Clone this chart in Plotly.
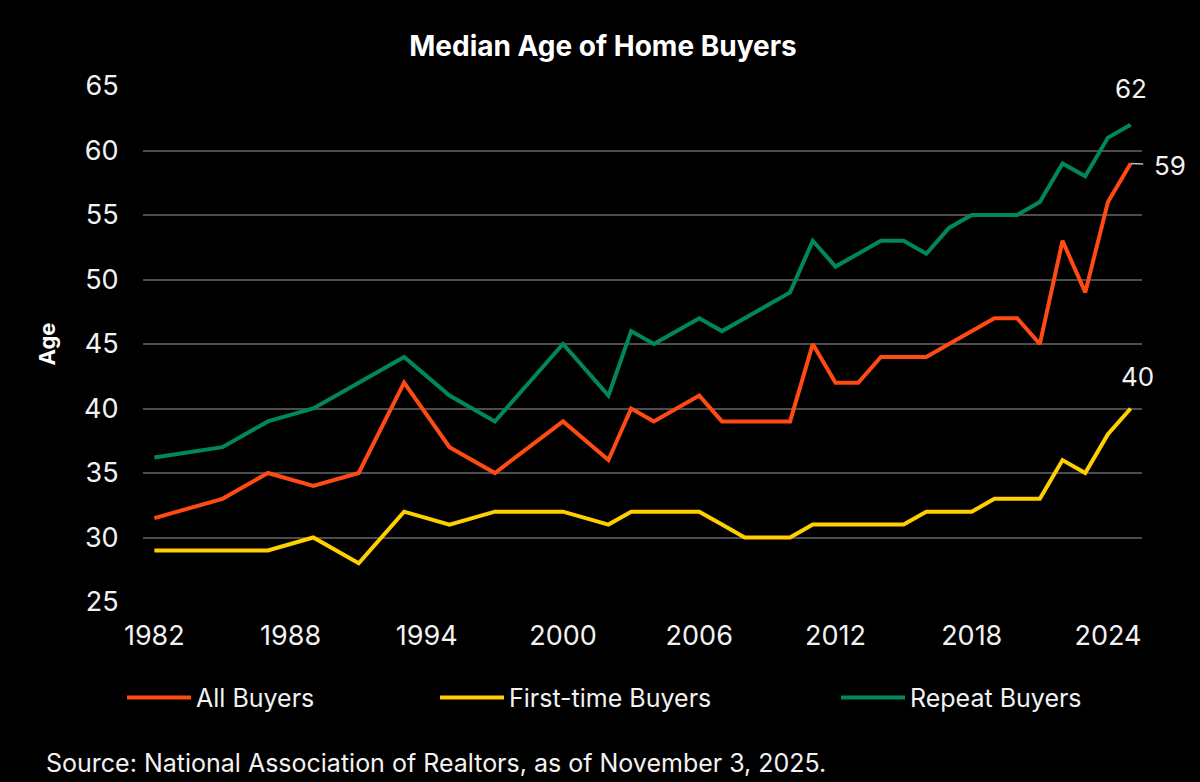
import plotly.graph_objects as go

# ---------------- data ----------------
years = [1982, 1985, 1987, 1989, 1991, 1993, 1995, 1997, 2000, 2002, 2003, 2004,
         2006, 2007, 2008, 2009, 2010, 2011, 2012, 2013, 2014, 2015, 2016, 2017,
         2018, 2019, 2020, 2021, 2022, 2023, 2024, 2025]
all_buyers = [31.5, 33, 35, 34, 35, 42, 37, 35, 39, 36, 40, 39,
              41, 39, 39, 39, 39, 45, 42, 42, 44, 44, 44, 45,
              46, 47, 47, 45, 53, 49, 56, 59]
first_time_buyers = [29, 29, 29, 30, 28, 32, 31, 32, 32, 31, 32, 32,
                     32, 31, 30, 30, 30, 31, 31, 31, 31, 31, 32, 32,
                     32, 33, 33, 33, 36, 35, 38, 40]
repeat_buyers = [36.2, 37, 39, 40, 42, 44, 41, 39, 45, 41, 46, 45,
                 47, 46, 47, 48, 49, 53, 51, 52, 53, 53, 52, 54,
                 55, 55, 55, 56, 59, 58, 61, 62]
series_names = ["All Buyers", "First-time Buyers", "Repeat Buyers"]
x_tick_values = [1982, 1988, 1994, 2000, 2006, 2012, 2018, 2024]
y_tick_values = [25, 30, 35, 40, 45, 50, 55, 60, 65]
title_text = "Median Age of Home Buyers"
y_title_text = "Age"
source_text = "Source: National Association of Realtors, as of November 3, 2025."

# ---------------- styling ----------------
W, H = 1200, 782
L, R, T, B = 143, 58, 86, 180
colors = ["#FF4A14", "#FFCF00", "#00875A"]
FONT = "Inter"
TXT = "#F2F2F2"
GRID = "#4D4D4D"


def paper_x(px):
    return (px - L) / (W - L - R)


def paper_y(py):
    return (H - B - py) / (H - T - B)


series = [all_buyers, first_time_buyers, repeat_buyers]

fig = go.Figure()
for name, vals, col in zip(series_names, series, colors):
    fig.add_trace(go.Scatter(
        x=years, y=vals, mode="lines", name=name,
        line=dict(color=col, width=4), showlegend=False,
        hoverinfo="x+y+name",
    ))

# end-of-line value labels
fig.add_annotation(x=years[-1], y=repeat_buyers[-1], text=str(repeat_buyers[-1]),
                   showarrow=False, yshift=36, xshift=0,
                   font=dict(family=FONT, size=26, color=TXT))
fig.add_annotation(x=years[-1], y=first_time_buyers[-1], text=str(first_time_buyers[-1]),
                   showarrow=False, yshift=32, xshift=7,
                   font=dict(family=FONT, size=26, color=TXT))
fig.add_annotation(x=years[-1], y=all_buyers[-1], text=str(all_buyers[-1]),
                   showarrow=True, arrowhead=0, arrowwidth=1.5, arrowcolor="#BBBBBB",
                   ax=39, ay=2, axref="pixel", ayref="pixel", standoff=0,
                   borderpad=10, font=dict(family=FONT, size=26, color=TXT))

# manual legend (positions match the reference layout)
legend_line_starts = [127, 440, 841]
legend_y = 697.5
for name, col, x0 in zip(series_names, colors, legend_line_starts):
    fig.add_shape(type="line", xref="paper", yref="paper",
                  x0=paper_x(x0), x1=paper_x(x0 + 64),
                  y0=paper_y(legend_y), y1=paper_y(legend_y),
                  line=dict(color=col, width=4))
    fig.add_annotation(xref="paper", yref="paper", x=paper_x(x0 + 67), y=paper_y(legend_y),
                       xanchor="left", yanchor="middle", showarrow=False, text=name,
                       font=dict(family=FONT, size=25, color=TXT))

# source note
fig.add_annotation(xref="paper", yref="paper", x=paper_x(44), y=paper_y(763),
                   xanchor="left", yanchor="middle", showarrow=False, text=source_text,
                   font=dict(family=FONT, size=25, color=TXT))

fig.update_layout(
    width=W, height=H,
    paper_bgcolor="black", plot_bgcolor="black",
    margin=dict(l=L, r=R, t=T, b=B, autoexpand=False),
    title=dict(text=title_text, x=603 / W, xanchor="center", y=1 - 46 / H, yanchor="middle",
               font=dict(family=FONT, size=28, color="white", weight="bold")),
    font=dict(family=FONT, color=TXT),
    xaxis=dict(range=[1981.5, 2025.5], tickvals=x_tick_values, showgrid=False,
               zeroline=False, showline=False, ticks="outside", ticklen=10,
               tickcolor="rgba(0,0,0,0)", tickfont=dict(family=FONT, size=27, color=TXT),
               automargin=False),
    yaxis=dict(range=[25, 65], tickvals=y_tick_values, showgrid=True, gridcolor=GRID,
               gridwidth=1.5, zeroline=False, showline=False, ticks="outside", ticklen=18,
               tickcolor="rgba(0,0,0,0)", tickfont=dict(family=FONT, size=27, color=TXT),
               title=dict(text=y_title_text, standoff=22,
                          font=dict(family=FONT, size=22, color="white", weight="bold")),
               automargin=False),
    hovermode="closest",
)

fig.write_html(
    "out.html",
    config={"displayModeBar": False},
    post_script="document.body.style.margin='0';document.body.style.overflow='hidden';",
)
